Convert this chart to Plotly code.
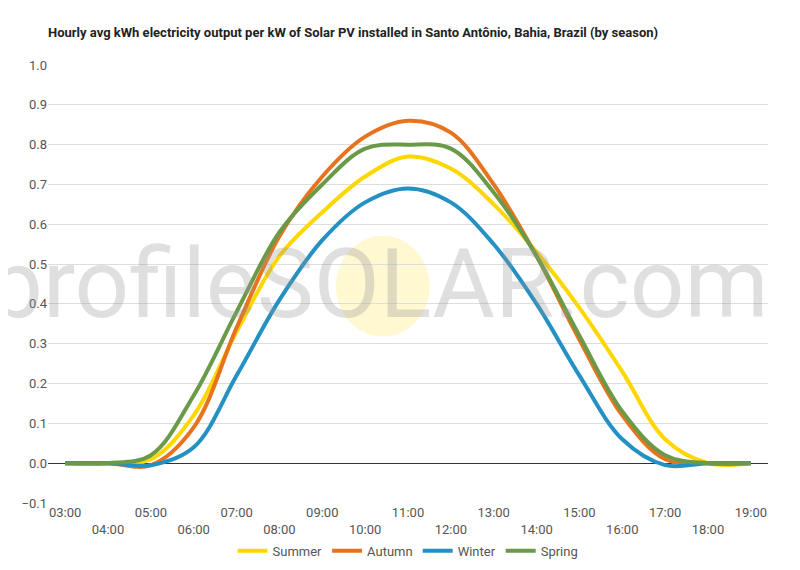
import plotly.graph_objects as go

hours = list(range(3, 20))
summer = [0, 0, 0.01, 0.12, 0.33, 0.52, 0.63, 0.72, 0.77, 0.74, 0.65, 0.53, 0.39, 0.23, 0.06, 0.0, 0]
autumn = [0, 0, -0.005, 0.09, 0.34, 0.57, 0.72, 0.82, 0.86, 0.83, 0.70, 0.52, 0.31, 0.12, 0.01, 0, 0]
winter = [0, 0, -0.005, 0.04, 0.22, 0.41, 0.56, 0.655, 0.69, 0.655, 0.55, 0.40, 0.22, 0.06, -0.005, 0, 0]
spring = [0, 0, 0.02, 0.17, 0.38, 0.58, 0.70, 0.79, 0.80, 0.79, 0.68, 0.52, 0.32, 0.13, 0.02, 0, 0]

tick_text = [f"{h:02d}:00" if h % 2 else f"<br>{h:02d}:00" for h in hours]

fig = go.Figure()
for name, vals, color in [("Summer", summer, "#FFD700"), ("Autumn", autumn, "#E8731E"),
                          ("Winter", winter, "#2391C4"), ("Spring", spring, "#6A9A48")]:
    fig.add_trace(go.Scatter(x=hours, y=vals, name=name, mode="lines",
                             line=dict(color=color, width=4, shape="spline", smoothing=1.0)))

# watermark
fig.add_shape(type="circle", xref="paper", yref="paper", x0=0.40, x1=0.53, y0=0.38, y1=0.61,
              fillcolor="rgba(255,215,0,0.18)", line_width=0, layer="below")
fig.add_annotation(xref="paper", yref="paper", x=0.46, y=0.50, text="profileSOLAR.com",
                   showarrow=False, font=dict(size=96, color="rgba(150,150,150,0.3)", family="Roboto"))

fig.update_layout(
    width=800, height=570,
    title=dict(text="<b>Hourly avg kWh electricity output per kW of Solar PV installed in Santo Antônio, Bahia, Brazil (by season)</b>",
               x=0.05, y=0.965, font=dict(size=13, family="Roboto", color="#222")),
    plot_bgcolor="white", paper_bgcolor="white",
    font=dict(family="Roboto", size=13, color="#555"),
    margin=dict(l=40, r=40, t=57, b=59),
    xaxis=dict(tickvals=hours, ticktext=tick_text, range=[2.6, 19.4], showgrid=False,
               zeroline=False, tickangle=0),
    yaxis=dict(range=[-0.1, 1.0], dtick=0.1, tickformat=".1f", gridcolor="#ddd",
               zeroline=True, zerolinecolor="#333", zerolinewidth=1),
    legend=dict(orientation="h", x=0.5, xanchor="center", y=-0.075, yanchor="top",
                font=dict(size=13)),
)
fig.write_html("out.html")
